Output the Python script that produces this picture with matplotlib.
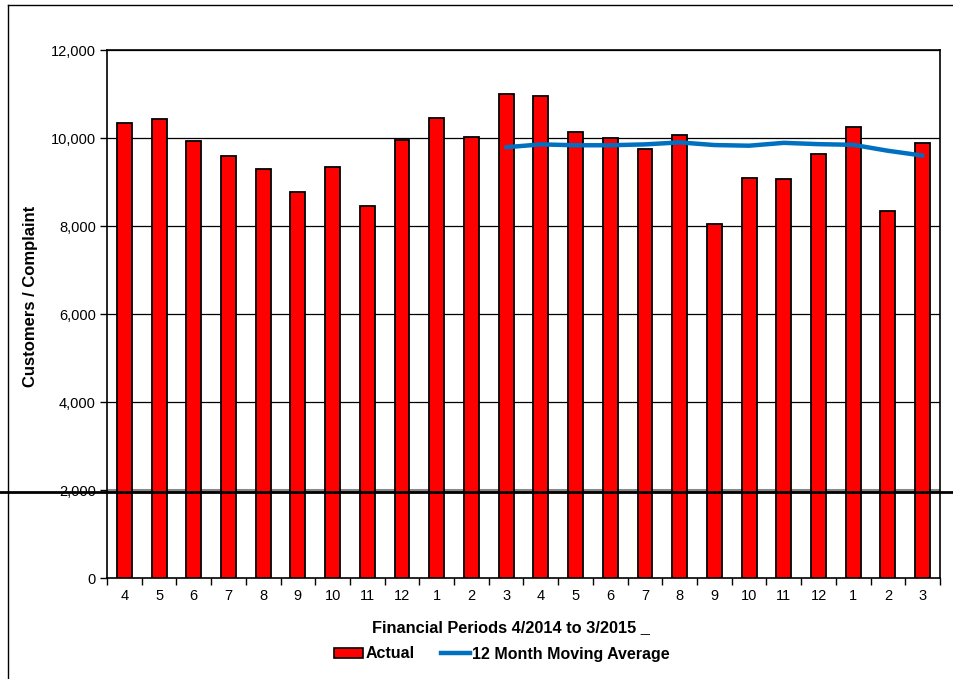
import matplotlib
matplotlib.use("Agg")
import matplotlib.pyplot as plt
from matplotlib.lines import Line2D
from matplotlib.patches import Patch
import numpy as np

plt.rcParams['font.family'] = ['Liberation Sans', 'DejaVu Sans']

periods = ["4", "5", "6", "7", "8", "9", "10", "11", "12", "1", "2", "3",
           "4", "5", "6", "7", "8", "9", "10", "11", "12", "1", "2", "3"]
actual = [10350, 10430, 9930, 9590, 9300, 8780, 9340, 8460, 9955, 10460, 10025, 11000,
          10960, 10140, 10000, 9750, 10060, 8045, 9090, 9070, 9630, 10260, 8330, 9890]
# 12-month moving average, available from the 12th period onward
moving_avg = [None] * 11 + [9790, 9855, 9835, 9835, 9855, 9900, 9840, 9825, 9890,
                            9860, 9845, 9710, 9600]

fig = plt.figure(figsize=(9.54, 6.79), dpi=100)
ax = fig.add_axes([107/954, 1 - 578/679, (940 - 107)/954, (578 - 50)/679])

x = np.arange(len(periods))
ax.bar(x, actual, width=0.43, color="#ff0000", edgecolor="black", linewidth=1.3,
       zorder=3)

ma_x = [i for i, v in enumerate(moving_avg) if v is not None]
ma_y = [v for v in moving_avg if v is not None]
ax.plot(ma_x, ma_y, color="#0070c0", linewidth=3.2, solid_capstyle="round", zorder=4)

ax.set_xlim(-0.5, len(periods) - 0.5)
ax.set_ylim(0, 12000)
ax.set_yticks(np.arange(0, 12001, 2000))
ax.set_yticklabels([f"{v:,}" for v in range(0, 12001, 2000)])
ax.set_xticks(x)
ax.set_xticklabels(periods)
ax.set_xticks(np.arange(-0.5, len(periods), 1), minor=True)
ax.tick_params(axis="x", which="major", length=0, pad=8, labelsize=10.5)
ax.tick_params(axis="x", which="minor", length=5, width=1, direction="out")
ax.tick_params(axis="y", length=5, width=1, direction="out", labelsize=10.5, pad=3)

for v in range(2000, 12001, 2000):
    ax.axhline(v, color="#888888" if v == 2000 else "black",
               linewidth=2.2 if v == 2000 else 0.9, zorder=1)

for s in ax.spines.values():
    s.set_linewidth(1.2)
    s.set_color("black")

fig.text(31 / 954, 1 - 296 / 679, "Customers / Complaint", fontsize=12,
         fontweight="bold", rotation=90, ha="center", va="center")
fig.text(372 / 954, 1 - 632 / 679, "Financial Periods 4/2014 to 3/2015 _",
         fontsize=11.8, fontweight="bold", ha="left", va="baseline")

handles = [Patch(facecolor="#ff0000", edgecolor="black", linewidth=1.2),
           Line2D([0], [0], color="#0070c0", linewidth=3.2)]
fig.legend(handles, ["Actual", "12 Month Moving Average"], loc="center",
           bbox_to_anchor=(502 / 954, 1 - 654 / 679), ncol=2, frameon=False,
           prop={"weight": "bold", "size": 11.5}, handlelength=1.85, handletextpad=0.15,
           columnspacing=1.6, handleheight=0.65)

# frame edges and the reference line across the whole figure
fig.add_artist(Line2D([8 / 954, 8 / 954], [0, 1 - 5 / 679], color="black",
                      linewidth=1.0, transform=fig.transFigure))
fig.add_artist(Line2D([8 / 954, 1], [1 - 5 / 679, 1 - 5 / 679], color="black",
                      linewidth=1.0, transform=fig.transFigure))
fig.add_artist(Line2D([0, 1], [1 - 492 / 679, 1 - 492 / 679], color="black",
                      linewidth=2.0, transform=fig.transFigure, zorder=10))

fig.savefig("out.png", dpi=100)
